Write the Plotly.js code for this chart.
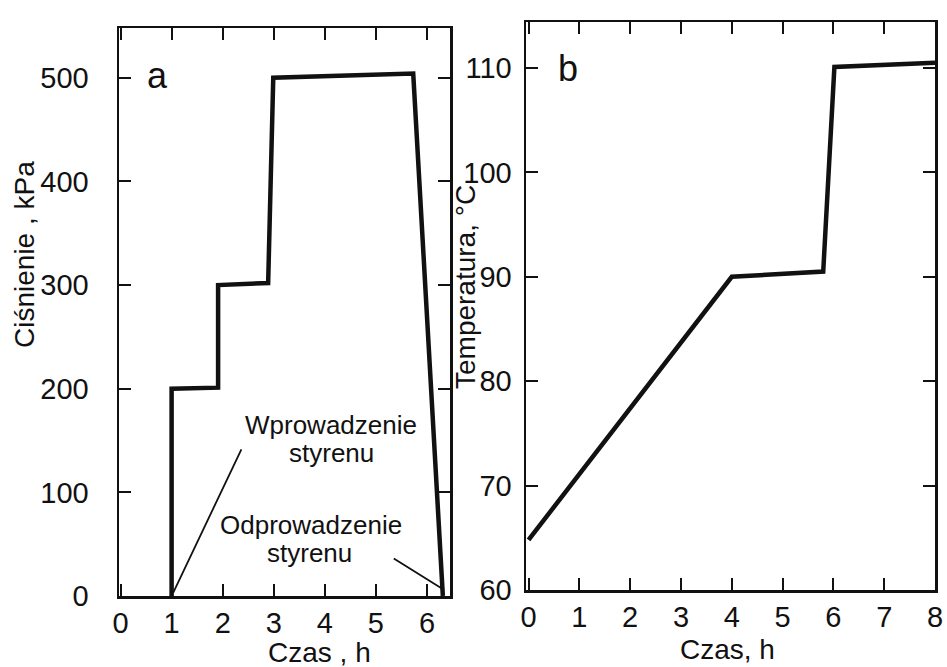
<!DOCTYPE html>
<html>
<head>
<meta charset="utf-8">
<script src="https://cdn.plot.ly/plotly-3.0.1.min.js"></script>
<style>html,body{margin:0;padding:0;background:#fff;}#chart{width:947px;height:667px;}</style>
</head>
<body>
<div id="chart"></div>
<script>
// Panel a: pressure vs time
const timeA = [1.0, 1.0, 1.91, 1.91, 2.89, 2.99, 5.73, 6.31];
const pressure = [0, 200, 201, 300, 302, 500, 504, 0];
// Panel b: temperature vs time
const timeB = [0, 4.0, 5.8, 6.02, 8.0];
const temperature = [64.8, 90.0, 90.5, 110.1, 110.5];
// Tick values
const ticksA_x = [0, 1, 2, 3, 4, 5, 6];
const ticksA_y = [0, 100, 200, 300, 400, 500];
const ticksB_x = [0, 1, 2, 3, 4, 5, 6, 7, 8];
const ticksB_y = [60, 70, 80, 90, 100, 110];
// Pointer annotations (from text to data point)
const ptrIn = {from: [2.38, 143], to: [1.03, 3]};
const ptrOut = {from: [5.32, 37], to: [6.33, 6]};

const FONT = 'Liberation Sans, Arial, sans-serif';
const tickFont = {family: FONT, size: 29, color: '#111'};
const titleFont = {family: FONT, size: 28, color: '#111'};
const textFont = {family: FONT, size: 26, color: '#111'};

const axBase = {
  showline: true, linecolor: '#111', linewidth: 2.5, mirror: 'ticks',
  ticks: 'inside', ticklen: 12, tickwidth: 2, tickcolor: '#111',
  showgrid: false, zeroline: false, tickfont: tickFont, tickmode: 'array'
};

const data = [
  {x: timeA, y: pressure, xaxis: 'x', yaxis: 'y', mode: 'lines',
   line: {color: '#111', width: 4.5}, hoverinfo: 'skip'},
  {x: timeB, y: temperature, xaxis: 'x2', yaxis: 'y2', mode: 'lines',
   line: {color: '#111', width: 4.5}, hoverinfo: 'skip'}
];

const layout = {
  width: 947, height: 667,
  margin: {l: 0, r: 0, t: 0, b: 0},
  paper_bgcolor: '#fff', plot_bgcolor: 'rgba(0,0,0,0)',
  showlegend: false,
  xaxis: Object.assign({}, axBase, {domain: [119/947, 450/947], range: [-0.03, 6.45],
    tickvals: ticksA_x, anchor: 'y', ticklabelstandoff: 0}),
  yaxis: Object.assign({}, axBase, {domain: [1-596/667, 1-28/667], range: [0, 548],
    tickvals: ticksA_y, anchor: 'x', ticklabelstandoff: 22}),
  xaxis2: Object.assign({}, axBase, {domain: [526/947, 935/947], range: [-0.05, 8.0],
    tickvals: ticksB_x, anchor: 'y2', ticklabelstandoff: 0}),
  yaxis2: Object.assign({}, axBase, {domain: [1-590/667, 1-22/667], range: [60, 114.4],
    tickvals: ticksB_y, anchor: 'x2', ticklabelstandoff: 6}),
  annotations: [
    {xref: 'paper', yref: 'paper', x: 157/947, y: 1-75/667, text: 'a', showarrow: false,
     font: {family: FONT, size: 36, color: '#111'}, xanchor: 'center', yanchor: 'middle'},
    {xref: 'paper', yref: 'paper', x: 568/947, y: 1-69/667, text: 'b', showarrow: false,
     font: {family: FONT, size: 36, color: '#111'}, xanchor: 'center', yanchor: 'middle'},
    {xref: 'paper', yref: 'paper', x: 24/947, y: 1-255/667, text: 'Ciśnienie , kPa', textangle: -90,
     showarrow: false, font: titleFont, xanchor: 'center', yanchor: 'middle'},
    {xref: 'paper', yref: 'paper', x: 465/947, y: 1-287/667, text: 'Temperatura, °C', textangle: -90,
     showarrow: false, font: titleFont, xanchor: 'center', yanchor: 'middle'},
    {xref: 'paper', yref: 'paper', x: 319/947, y: 1-652/667, text: 'Czas , h',
     showarrow: false, font: titleFont, xanchor: 'center', yanchor: 'middle'},
    {xref: 'paper', yref: 'paper', x: 727/947, y: 1-649/667, text: 'Czas, h',
     showarrow: false, font: titleFont, xanchor: 'center', yanchor: 'middle'},
    {xref: 'paper', yref: 'paper', x: 331/947, y: 1-425/667, text: 'Wprowadzenie',
     showarrow: false, font: textFont, xanchor: 'center', yanchor: 'middle'},
    {xref: 'paper', yref: 'paper', x: 331/947, y: 1-453/667, text: 'styrenu',
     showarrow: false, font: textFont, xanchor: 'center', yanchor: 'middle'},
    {xref: 'paper', yref: 'paper', x: 311/947, y: 1-525/667, text: 'Odprowadzenie',
     showarrow: false, font: textFont, xanchor: 'center', yanchor: 'middle'},
    {xref: 'paper', yref: 'paper', x: 309/947, y: 1-553/667, text: 'styrenu',
     showarrow: false, font: textFont, xanchor: 'center', yanchor: 'middle'},
    {xref: 'x', yref: 'y', axref: 'x', ayref: 'y', x: ptrIn.to[0], y: ptrIn.to[1],
     ax: ptrIn.from[0], ay: ptrIn.from[1], text: '', showarrow: true, arrowhead: 0,
     arrowwidth: 1.8, arrowcolor: '#111', standoff: 0, startstandoff: 0},
    {xref: 'x', yref: 'y', axref: 'x', ayref: 'y', x: ptrOut.to[0], y: ptrOut.to[1],
     ax: ptrOut.from[0], ay: ptrOut.from[1], text: '', showarrow: true, arrowhead: 0,
     arrowwidth: 1.8, arrowcolor: '#111', standoff: 0, startstandoff: 0}
  ]
};

Plotly.newPlot('chart', data, layout, {staticPlot: true, displayModeBar: false});
</script>
</body>
</html>
